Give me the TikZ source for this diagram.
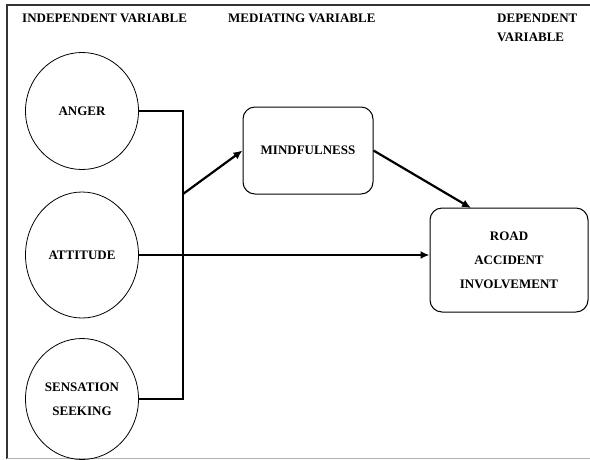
\documentclass[tikz,border=0pt]{standalone}
\usepackage{fontspec}
\setmainfont{Liberation Serif}
\usetikzlibrary{shapes, arrows, arrows.meta, positioning}
\tikzstyle{ivar} = [draw, ellipse, line width=0.8pt, minimum width=113pt, minimum height=121pt, inner sep=0pt, align=center, font=\bfseries\fontsize{13}{24}\selectfont]
\tikzstyle{block} = [draw, rectangle, rounded corners=12pt, line width=1pt, align=center, inner sep=0pt, font=\bfseries\fontsize{13}{24}\selectfont]
\tikzstyle{heading} = [anchor=base west, inner sep=0pt, align=left, font=\bfseries\fontsize{13}{19}\selectfont]
\tikzstyle{link} = [draw, line width=2.2pt]

\begin{document}
\begin{tikzpicture}[x=1pt, y=-1pt, >={Latex[length=9pt,width=8pt]}]
  \useasboundingbox (0,0) rectangle (590,459);
  % frame
  \draw [line width=2pt, black!80] (590,5) -- (7,5) -- (7,459);
  \draw [line width=0.6pt, black!30] (7,458) -- (590,458);

  \node [heading] (hind) at (22,22) {INDEPENDENT VARIABLE};
  \node [heading] (hmed) at (228,22) {MEDIATING VARIABLE};
  \node [heading] (hdep) at (497,41) {DEPENDENT\\VARIABLE};

  \node [ivar, minimum height=117pt] (anger) at (82,111) {ANGER};
  \node [ivar, minimum height=126pt] (att) at (82,255) {ATTITUDE};
  \node [ivar] (sens) at (82,399) {SENSATION\\SEEKING};

  \node [block, minimum width=130pt, minimum height=87pt] (mind) at (308,150.5) {MINDFULNESS};
  \node [block, minimum width=158pt, minimum height=104pt] (road) at (509,260) {ROAD\\ACCIDENT\\INVOLVEMENT};

  \coordinate (junc) at (183,255);
  \coordinate (split) at (183,194);
  \coordinate (rin) at (471,208);

  \draw [link] (anger.east) -| (junc) |- (sens.east);
  \draw [link, ->] (split) -- (mind.west);
  \draw [link, ->] (att.east) -- (att.east -| road.west);
  \draw [link, ->] (mind.east) -- (rin);
\end{tikzpicture}
\end{document}
